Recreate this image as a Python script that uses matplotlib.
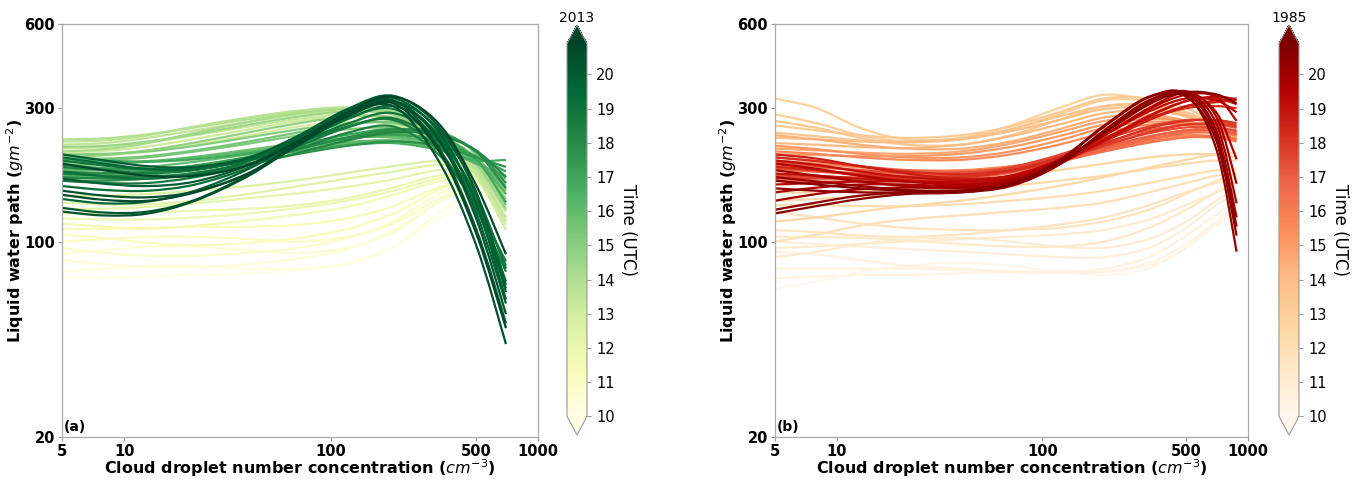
import numpy as np
import matplotlib
matplotlib.use('Agg')
import matplotlib.pyplot as plt
from matplotlib import colors, cm
from matplotlib.path import Path
from matplotlib.patches import PathPatch
from matplotlib.ticker import FixedLocator, NullLocator, FixedFormatter

# ---- panel (a): 2013, droplet number knots and LWP curves by time (UTC)
nd_a = [5, 8, 13, 22, 40, 70, 120, 200, 330, 500, 700]

t_a_pale = [10.0, 10.2, 10.4, 10.6, 10.8, 11.0, 11.2, 11.4, 11.6, 11.8, 12.0, 12.2, 12.4, 12.6]
lwp_a_pale = [
    [74, 74, 75, 76, 77, 79, 84, 96, 120, 138, 118],
    [78, 80, 82, 82, 80, 80, 83, 96, 126, 148, 130],
    [86, 83, 81, 81, 83, 87, 94, 110, 138, 152, 138],
    [90, 93, 96, 96, 93, 91, 95, 108, 138, 158, 148],
    [95, 91, 89, 89, 91, 95, 103, 118, 148, 163, 142],
    [100, 102, 104, 104, 102, 100, 104, 116, 142, 160, 150],
    [106, 103, 99, 97, 99, 103, 111, 126, 153, 168, 153],
    [111, 111, 112, 113, 113, 115, 121, 134, 156, 166, 148],
    [116, 113, 111, 114, 119, 125, 133, 147, 164, 168, 138],
    [121, 120, 120, 122, 126, 132, 140, 152, 168, 172, 145],
    [126, 126, 127, 129, 131, 135, 143, 156, 172, 174, 152],
    [131, 131, 133, 137, 143, 149, 157, 167, 180, 178, 156],
    [138, 136, 136, 140, 148, 158, 168, 178, 188, 182, 150],
    [146, 146, 148, 152, 158, 166, 176, 186, 194, 184, 152],
]
t_a_light = [12.9, 13.1, 13.3, 13.5, 13.7, 13.9, 14.2, 14.5, 14.8, 15.1, 15.3, 15.5]
lwp_a_light = [
    [200, 203, 210, 222, 240, 258, 268, 262, 228, 172, 115],
    [208, 211, 219, 233, 252, 270, 280, 272, 232, 172, 110],
    [215, 218, 226, 240, 258, 275, 285, 275, 236, 176, 118],
    [222, 225, 235, 250, 268, 285, 295, 284, 240, 180, 122],
    [228, 230, 240, 258, 278, 294, 302, 290, 245, 184, 128],
    [232, 234, 242, 256, 274, 290, 300, 292, 250, 190, 132],
    [210, 214, 225, 245, 268, 288, 298, 290, 248, 190, 138],
    [218, 220, 228, 242, 262, 280, 292, 285, 245, 190, 130],
    [200, 204, 212, 226, 246, 265, 280, 278, 245, 195, 142],
    [205, 206, 210, 220, 236, 252, 265, 265, 240, 200, 148],
    [195, 196, 200, 210, 224, 240, 252, 255, 235, 200, 152],
    [198, 198, 202, 212, 228, 246, 262, 268, 250, 205, 135],
]
t_a_mid = [15.7, 15.9, 16.1, 16.3, 16.5, 16.7, 16.9, 17.2, 17.5, 17.7, 17.9, 18.1]
lwp_a_mid = [
    [188, 189, 193, 201, 213, 225, 235, 235, 218, 192, 162],
    [180, 181, 185, 193, 205, 217, 227, 229, 215, 192, 168],
    [192, 192, 194, 200, 210, 222, 234, 238, 222, 194, 158],
    [172, 172, 176, 184, 197, 212, 224, 230, 217, 190, 172],
    [183, 181, 181, 187, 199, 216, 234, 244, 230, 196, 148],
    [168, 169, 173, 183, 197, 211, 221, 225, 213, 195, 196],
    [198, 195, 193, 197, 207, 223, 241, 253, 238, 197, 138],
    [175, 175, 178, 187, 201, 218, 233, 241, 228, 202, 178],
    [188, 183, 181, 185, 197, 215, 235, 249, 242, 212, 162],
    [165, 165, 168, 176, 190, 206, 220, 228, 220, 200, 185],
    [178, 176, 176, 182, 195, 214, 236, 252, 245, 210, 155],
    [170, 168, 168, 174, 188, 208, 230, 246, 240, 212, 170],
]
t_a_dark = [18.3, 18.5, 18.7, 18.9, 19.1, 19.3, 19.5, 19.7, 19.9, 20.0, 20.2, 20.4, 20.5, 20.7, 20.8]
lwp_a_dark = [
    [175, 172, 171, 176, 190, 215, 245, 258, 205, 135, 85],
    [185, 180, 176, 180, 196, 225, 258, 272, 212, 132, 78],
    [165, 162, 162, 170, 188, 220, 256, 276, 222, 142, 82],
    [195, 187, 181, 182, 196, 226, 264, 288, 232, 148, 80],
    [178, 171, 168, 174, 194, 232, 276, 298, 228, 134, 68],
    [158, 153, 152, 160, 184, 226, 274, 305, 242, 142, 72],
    [200, 190, 182, 182, 198, 236, 286, 318, 252, 152, 70],
    [142, 137, 139, 152, 182, 230, 284, 315, 238, 128, 60],
    [168, 161, 158, 164, 188, 236, 294, 326, 248, 138, 62],
    [205, 195, 186, 185, 200, 240, 298, 332, 258, 150, 66],
    [132, 127, 128, 141, 174, 226, 285, 320, 218, 112, 51],
    [152, 146, 144, 151, 175, 222, 282, 318, 232, 122, 55],
    [128, 124, 126, 140, 172, 224, 280, 305, 195, 98, 43],
    [147, 141, 140, 150, 176, 226, 283, 312, 212, 108, 49],
    [190, 180, 172, 172, 188, 230, 290, 330, 265, 160, 90],
]

# ---- panel (b): 1985
nd_b = [5, 8, 13, 22, 40, 70, 120, 200, 330, 500, 700, 880]

t_b_pale = [10.0, 10.2, 10.3, 10.5, 10.7, 10.9, 11.1, 11.3, 11.5, 11.7, 11.9, 12.1, 12.3, 12.4, 12.6]
lwp_b_pale = [
    [68, 72, 78, 82, 84, 82, 78, 76, 80, 95, 115, 125],
    [74, 75, 76, 76, 77, 78, 78, 78, 82, 95, 115, 130],
    [80, 80, 80, 80, 79, 78, 77, 78, 84, 98, 118, 135],
    [92, 90, 86, 82, 80, 78, 78, 80, 88, 105, 125, 140],
    [100, 98, 96, 94, 92, 90, 88, 88, 95, 112, 135, 150],
    [88, 92, 98, 102, 103, 100, 96, 95, 102, 118, 140, 155],
    [95, 96, 98, 100, 102, 104, 106, 110, 120, 135, 150, 160],
    [104, 104, 103, 101, 98, 96, 96, 100, 112, 130, 150, 165],
    [110, 108, 105, 104, 106, 110, 115, 122, 135, 150, 162, 170],
    [128, 122, 116, 112, 110, 110, 112, 118, 130, 148, 165, 175],
    [100, 106, 114, 120, 124, 128, 132, 138, 150, 162, 172, 175],
    [135, 135, 134, 134, 136, 140, 145, 152, 162, 172, 180, 182],
    [140, 142, 145, 148, 152, 158, 165, 172, 182, 190, 195, 195],
    [118, 122, 128, 134, 140, 148, 158, 170, 184, 196, 205, 208],
    [150, 150, 152, 156, 162, 170, 180, 190, 200, 205, 205, 200],
]
t_b_light = [12.8, 13.0, 13.2, 13.4, 13.6, 13.8, 14.1, 14.4, 14.7, 15.0, 15.2, 15.5]
lwp_b_light = [
    [325, 300, 255, 232, 235, 260, 300, 335, 320, 285, 255, 240],
    [285, 265, 240, 228, 232, 252, 285, 320, 318, 290, 260, 245],
    [260, 250, 240, 235, 240, 258, 290, 325, 325, 300, 265, 240],
    [270, 255, 235, 222, 222, 240, 272, 305, 310, 290, 262, 245],
    [245, 238, 230, 228, 234, 252, 280, 305, 305, 285, 255, 235],
    [235, 232, 228, 226, 232, 248, 272, 298, 300, 282, 255, 235],
    [225, 222, 218, 216, 222, 238, 262, 288, 295, 280, 255, 230],
    [240, 232, 222, 215, 215, 228, 252, 278, 285, 270, 250, 235],
    [215, 212, 208, 206, 210, 224, 246, 270, 280, 270, 250, 230],
    [205, 204, 202, 202, 206, 218, 238, 262, 275, 268, 250, 235],
    [220, 214, 206, 200, 200, 210, 230, 255, 268, 265, 250, 230],
    [210, 206, 200, 196, 196, 205, 222, 245, 262, 262, 252, 240],
]
t_b_mid = [15.7, 15.9, 16.1, 16.3, 16.5, 16.7, 16.9, 17.1, 17.4, 17.7, 17.9, 18.1]
lwp_b_mid = [
    [195, 190, 184, 180, 180, 186, 198, 215, 232, 240, 238, 232],
    [180, 178, 176, 175, 177, 184, 196, 212, 228, 236, 235, 228],
    [170, 170, 170, 171, 174, 182, 196, 214, 232, 244, 245, 240],
    [188, 184, 180, 176, 176, 182, 194, 210, 226, 236, 238, 232],
    [175, 172, 168, 166, 168, 176, 192, 212, 232, 246, 250, 245],
    [165, 164, 164, 165, 168, 178, 194, 215, 236, 250, 254, 250],
    [200, 194, 186, 180, 178, 184, 198, 218, 238, 250, 250, 242],
    [182, 178, 174, 172, 174, 184, 202, 226, 250, 262, 262, 255],
    [192, 186, 180, 176, 176, 184, 200, 222, 244, 256, 256, 248],
    [172, 170, 168, 168, 172, 184, 204, 232, 258, 272, 270, 260],
    [168, 168, 168, 169, 172, 180, 196, 220, 246, 262, 264, 258],
    [185, 180, 174, 170, 170, 178, 196, 224, 254, 270, 272, 265],
]
t_b_dark = [18.3, 18.5, 18.7, 18.9, 19.1, 19.3, 19.5, 19.7, 19.9, 20.0, 20.2, 20.4, 20.5, 20.7, 20.8]
lwp_b_dark = [
    [200, 194, 186, 178, 174, 180, 200, 235, 275, 300, 305, 300],
    [185, 180, 172, 166, 164, 172, 195, 232, 275, 305, 315, 320],
    [205, 198, 186, 175, 168, 172, 192, 228, 272, 305, 320, 325],
    [175, 172, 168, 164, 162, 170, 192, 232, 282, 318, 325, 310],
    [195, 188, 178, 170, 166, 170, 190, 230, 280, 318, 330, 322],
    [160, 162, 164, 164, 164, 172, 196, 240, 292, 325, 320, 290],
    [190, 182, 172, 164, 160, 168, 194, 240, 298, 335, 330, 270],
    [150, 156, 160, 160, 158, 166, 192, 240, 300, 340, 290, 197],
    [180, 172, 164, 158, 156, 164, 192, 245, 310, 345, 280, 161],
    [140, 148, 154, 156, 155, 162, 190, 245, 310, 340, 265, 137],
    [170, 164, 158, 153, 152, 160, 188, 248, 318, 340, 250, 122],
    [130, 138, 146, 150, 150, 158, 188, 250, 320, 338, 240, 113],
    [155, 152, 150, 150, 152, 162, 194, 258, 328, 335, 215, 92],
    [126, 134, 142, 148, 150, 160, 195, 260, 330, 330, 230, 105],
    [165, 160, 155, 152, 152, 160, 190, 245, 312, 342, 336, 312],
]

xticks = [5, 10, 100, 500, 1000]
yticks = [20, 100, 300, 600]
cb_ticks = list(range(10, 21))
t_min, t_max = 10.0, 20.9

W, H = 1363, 480
fig = plt.figure(figsize=(W / 100, H / 100), dpi=100)


def px(x0, y0, x1, y1):
    # pixel box -> figure fraction
    return [x0 / W, 1 - y1 / H, (x1 - x0) / W, (y1 - y0) / H]


def smooth_path(xs, ys):
    # curve through the read points, drawn as cubic beziers in log-log space
    p = np.column_stack([np.log10(xs), np.log10(ys)])
    n = len(p)
    verts = [p[0]]
    codes = [Path.MOVETO]
    for i in range(n - 1):
        p0 = p[max(i - 1, 0)]
        p3 = p[min(i + 2, n - 1)]
        c1 = p[i] + (p[i + 1] - p0) / 6.0
        c2 = p[i + 1] - (p3 - p[i]) / 6.0
        verts += [c1, c2, p[i + 1]]
        codes += [Path.CURVE4] * 3
    return Path(10 ** np.array(verts), codes)


def panel(box, cbox, nd, groups, cmap_name, year, tag):
    ax = fig.add_axes(px(*box))
    cmap = plt.get_cmap(cmap_name)
    norm = colors.Normalize(vmin=t_min, vmax=t_max)
    ax.set_xscale('log')
    ax.set_yscale('log')
    for times, curves in groups:
        for t, lwp in zip(times, curves):
            ax.add_patch(PathPatch(smooth_path(nd, lwp), fill=False,
                                   edgecolor=cmap(norm(t)), lw=1.6,
                                   capstyle='butt', joinstyle='round'))
    ax.set_xlim(5, 1000)
    ax.set_ylim(20, 600)
    ax.xaxis.set_major_locator(FixedLocator(xticks))
    ax.xaxis.set_major_formatter(FixedFormatter([str(v) for v in xticks]))
    ax.yaxis.set_major_locator(FixedLocator(yticks))
    ax.yaxis.set_major_formatter(FixedFormatter([str(v) for v in yticks]))
    ax.xaxis.set_minor_locator(NullLocator())
    ax.yaxis.set_minor_locator(NullLocator())
    ax.tick_params(labelsize=10.5, color='#999999', length=3, width=0.8, pad=2)
    for lab in ax.get_xticklabels() + ax.get_yticklabels():
        lab.set_fontweight('bold')
    for s in ax.spines.values():
        s.set_color('#aaaaaa')
        s.set_linewidth(0.9)
    ax.set_xlabel('Cloud droplet number concentration ($cm^{-3}$)',
                  fontsize=11.5, fontweight='bold', labelpad=-1)
    ax.set_ylabel('Liquid water path ($gm^{-2}$)', fontsize=11.5,
                  fontweight='bold')
    ax.yaxis.set_label_coords(-0.076, 0.5)
    ax.text(0.003, 0.008, tag, transform=ax.transAxes, fontsize=10,
            fontweight='bold', ha='left', va='bottom')

    cax = fig.add_axes(px(*cbox))
    sm = cm.ScalarMappable(norm=norm, cmap=cmap)
    cb = fig.colorbar(sm, cax=cax, extend='both', ticks=cb_ticks)
    cb.outline.set_edgecolor('#999999')
    cb.outline.set_linewidth(0.8)
    cb.ax.tick_params(labelsize=10.5, length=3, color='#999999', width=0.8)
    cb.set_label('Time (UTC)', rotation=270, fontsize=12, labelpad=16)
    cb.ax.set_title(year, fontsize=10, pad=1.5)
    return ax


panel((62, 24, 538, 437), (567, 25, 587, 435), nd_a,
      [(t_a_pale, lwp_a_pale), (t_a_light, lwp_a_light),
       (t_a_mid, lwp_a_mid), (t_a_dark, lwp_a_dark)],
      'YlGn', '2013', '(a)')
panel((775, 24, 1248, 437), (1279, 25, 1299, 435), nd_b,
      [(t_b_pale, lwp_b_pale), (t_b_light, lwp_b_light),
       (t_b_mid, lwp_b_mid), (t_b_dark, lwp_b_dark)],
      'OrRd', '1985', '(b)')

fig.savefig('out.png', dpi=100)
